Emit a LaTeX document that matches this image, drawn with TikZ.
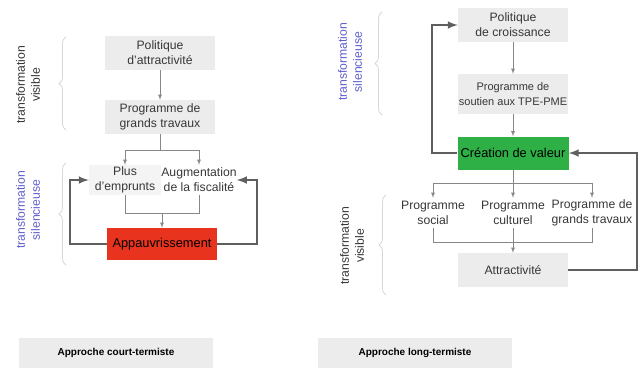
\documentclass[tikz,border=0pt]{standalone}
\usepackage{fontspec}
\setmainfont{Liberation Sans}
\usepackage{tikz}
\usetikzlibrary{decorations.pathreplacing}

\definecolor{boxgray}{RGB}{236,236,236}
\definecolor{textgray}{RGB}{55,55,55}
\definecolor{linegray}{RGB}{135,135,135}
\definecolor{fbgray}{RGB}{95,95,95}
\definecolor{redfill}{RGB}{232,52,30}
\definecolor{greenfill}{RGB}{46,176,70}
\definecolor{bluetext}{RGB}{95,95,205}
\definecolor{bracegray}{RGB}{215,215,215}

\begin{document}
\begin{tikzpicture}[x=1pt, y=-1pt,
    every node/.style={text=textgray, align=center, inner sep=0pt,
        font=\fontsize{12.2}{15}\selectfont},
    box/.style={fill=boxgray, minimum width=110, minimum height=34},
    plain/.style={minimum width=72, minimum height=30},
    redbox/.style={fill=redfill, text=black, minimum width=110, minimum height=32,
        font=\fontsize{12.8}{15}\selectfont},
    greenbox/.style={fill=greenfill, text=black, minimum width=111, minimum height=33,
        font=\fontsize{12.8}{15}\selectfont},
    footbox/.style={fill=boxgray, text=black, minimum width=194, minimum height=30,
        font=\fontsize{10}{12}\selectfont\bfseries},
    side/.style={rotate=90},
    arrow/.style={draw=linegray, line width=0.8pt, -latex},
    link/.style={draw=linegray, line width=0.8pt},
    feedback/.style={draw=fbgray, line width=2.4pt, -latex},
    bracket/.style={draw=bracegray, line width=0.8pt,
        decoration={brace, amplitude=7pt}, decorate}]

    \useasboundingbox (0,0) rectangle (641,368);

    % Short-term approach
    \node[box] (pola) at (160,53) {Politique\\d'attractivit\'e};
    \node[box] (proga) at (160,117) {Programme de\\grands travaux};
    \node[plain, fill=boxgray!60] (empr) at (125,180) {Plus\\d'emprunts};
    \node[plain] (fisc) at (199,180) {Augmentation\\de la fiscalit\'e};
    \node[redbox] (appa) at (162,244) {Appauvrissement};

    \coordinate (lsplit) at (160,150);
    \coordinate (ljoin) at (162,213);
    \coordinate (lleft) at (70,0);
    \coordinate (lright) at (257,0);

    \draw[arrow] (pola) -- (proga);
    \draw[link] (proga) -- (lsplit);
    \draw[arrow] (lsplit) -| (empr.north);
    \draw[arrow] (lsplit) -| (fisc.north);
    \draw[link] (empr.south) |- (ljoin);
    \draw[link] (fisc.south) |- (ljoin);
    \draw[arrow] (ljoin) -- (appa);
    \draw[feedback] (appa.west) -- (appa.west -| lleft) |- (empr.west);
    \draw[feedback] (appa.east) -- (appa.east -| lright) |- (fisc.east);

    % Long-term approach
    \node[box] (polb) at (513,25) {Politique\\de croissance};
    \node[box, minimum height=40, font=\fontsize{11}{15}\selectfont] (tpe) at (513,94)
        {Programme de\\soutien aux TPE-PME};
    \node[greenbox] (vale) at (513,153) {Cr\'eation de valeur};
    \node[plain] (soci) at (433,213) {Programme\\social};
    \node[plain] (cult) at (513,213) {Programme\\culturel};
    \node[plain] (granb) at (592,213) {Programme de\\grands travaux};
    \node[box] (attr) at (513,270) {Attractivit\'e};

    \coordinate (rsplit) at (513,183);
    \coordinate (rjoin) at (513,242);
    \coordinate (rleft) at (432,0);
    \coordinate (rright) at (637,0);

    \draw[arrow] (polb) -- (tpe);
    \draw[arrow] (tpe) -- (vale);
    \draw[link] (vale) -- (rsplit);
    \draw[arrow] (rsplit) -| (soci.north);
    \draw[arrow] (rsplit) -- (cult);
    \draw[arrow] (rsplit) -| (granb.north);
    \draw[link] (soci.south) |- (rjoin);
    \draw[link] (granb.south) |- (rjoin);
    \draw[arrow] (cult) -- (attr);
    \draw[feedback] (vale.west) -- (vale.west -| rleft) |- (polb.west);
    \draw[feedback] (attr.east) -- (attr.east -| rright) |- (vale.east);

    % Side labels
    \coordinate (bva1) at (66,130);
    \coordinate (bva2) at (66,37);
    \coordinate (bsa1) at (66,265);
    \coordinate (bsa2) at (66,163);
    \coordinate (bsb1) at (382,115);
    \coordinate (bsb2) at (382,12);
    \coordinate (bvb1) at (386,295);
    \coordinate (bvb2) at (386,195);
    \draw[bracket] (bva1) -- (bva2);
    \draw[bracket] (bsa1) -- (bsa2);
    \draw[bracket] (bsb1) -- (bsb2);
    \draw[bracket] (bvb1) -- (bvb2);
    \node[side] (visa) at (28,85) {transformation\\visible};
    \node[side, text=bluetext] (sila) at (28,210) {transformation\\silencieuse};
    \node[side, text=bluetext] (silb) at (350,62) {transformation\\silencieuse};
    \node[side] (visb) at (352,246) {transformation\\visible};

    % Captions
    \node[footbox] (court) at (116,353) {Approche court-termiste};
    \node[footbox] (long) at (415,353) {Approche long-termiste};
\end{tikzpicture}
\end{document}
